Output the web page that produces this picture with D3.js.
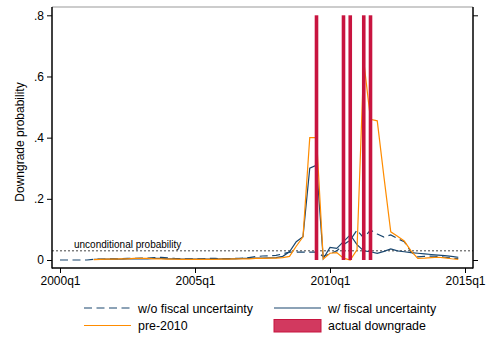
<!DOCTYPE html>
<html>
<head>
<meta charset="utf-8">
<script src="https://cdn.jsdelivr.net/npm/d3@7"></script>
<style>
  body { margin: 0; background: #fff; }
  text { font-family: "Liberation Sans", Arial, sans-serif; fill: #000; }
</style>
</head>
<body>
<svg id="chart"></svg>
<script>
// quarter index: 0 = 2000q1 ... 59 = 2014q4
let quarters = d3.range(0, 60);
let tickQuarters = [0, 20, 40, 60];
let tickLabels = ["2000q1", "2005q1", "2010q1", "2015q1"];
let yTicks = [0, 0.2, 0.4, 0.6, 0.8];
let yTickLabels = ["0", ".2", ".4", ".6", ".8"];

let woFiscal = [0, 0, 0, 0, 0,
  0.002, 0.003, 0.003, 0.004, 0.004, 0.005, 0.005, 0.006, 0.006,
  0.008, 0.009, 0.007, 0.005, 0.004, 0.004, 0.004, 0.004, 0.005, 0.005, 0.004, 0.004, 0.005, 0.006,
  0.008, 0.011, 0.013, 0.014, 0.015, 0.02, 0.026, 0.026, 0.026, 0.026, 0.026, 0.012,
  0.02, 0.03, 0.05, 0.065, 0.098, 0.072, 0.098, 0.085, 0.075, 0.082, 0.07, 0.06, 0.027, 0.01,
  0.012, 0.013, 0.012, 0.009, 0.006, 0.005];

let wFiscal = [null, null, null, null, null,
  0.002, 0.002, 0.003, 0.003, 0.003, 0.004, 0.004, 0.004, 0.004, 0.005, 0.005, 0.004, 0.004,
  0.003, 0.003, 0.003, 0.003, 0.003, 0.003, 0.004, 0.004, 0.004, 0.005,
  0.005, 0.006, 0.006, 0.007, 0.008, 0.012, 0.027, 0.06, 0.076, 0.30, 0.31, 0.005,
  0.041, 0.038, 0.06, 0.082, 0.05, 0.03, 0.027, 0.022, 0.028, 0.036, 0.03, 0.027, 0.024, 0.022,
  0.02, 0.018, 0.016, 0.014, 0.012, 0.009];

let pre2010 = [null, null, null, null, null,
  0.001, 0.002, 0.003, 0.003, 0.004, 0.004, 0.005, 0.005, 0.005, 0.004, 0.004, 0.003, 0.003,
  0.002, 0.002, 0.002, 0.002, 0.002, 0.002, 0.003, 0.003, 0.004, 0.004,
  0.004, 0.005, 0.005, 0.006, 0.006, 0.008, 0.012, 0.045, 0.076, 0.40, 0.40, 0.003,
  0.022, 0.024, 0.006, 0.0, 0.033, 0.65, 0.46, 0.455, 0.27, 0.092, 0.078, 0.062, 0.03, 0.005,
  0.006, 0.008, 0.009, 0.007, 0.004, 0.002];

let downgrades = [38, 42, 43, 45, 46];
let downgradeHeight = 0.8;
let unconditional = 0.03;

let W = 490, H = 338;
let plotL = 52, plotR = 473, plotT = 7, plotB = 268;

let svg = d3.select("#chart").attr("width", W).attr("height", H);

let x = d3.scaleLinear().domain([0, 60]).range([60, 465]);
let y = d3.scaleLinear().domain([0, 0.8]).range([260, 15.3]);

let navy = "#1a476f";
let orange = "#ff8c00";
let red = "#c8143f";

// plot frame (top)
svg.append("line").attr("x1", plotL).attr("x2", plotR).attr("y1", plotT).attr("y2", plotT)
  .attr("stroke", "#999").attr("stroke-width", 1.2);

// unconditional probability
svg.append("line")
  .attr("x1", plotL).attr("x2", plotR)
  .attr("y1", y(unconditional)).attr("y2", y(unconditional))
  .attr("stroke", "#444").attr("stroke-width", 1).attr("stroke-dasharray", "2,2");
svg.append("text").attr("x", 74).attr("y", y(unconditional) - 2.5)
  .attr("font-size", 10).text("unconditional probability");

// series
let line = d3.line()
  .defined(d => d[1] !== null)
  .x(d => x(d[0]))
  .y(d => y(d[1]));

let series = [
  { values: woFiscal, color: navy, dash: "8,4.5" },
  { values: wFiscal, color: navy, dash: null },
  { values: pre2010, color: orange, dash: null }
];

series.forEach(s => {
  svg.append("path")
    .datum(quarters.map(q => [q, s.values[q]]))
    .attr("d", line)
    .attr("fill", "none")
    .attr("stroke", s.color)
    .attr("stroke-width", 1.2)
    .attr("stroke-dasharray", s.dash);
});

// actual downgrades
let barW = 3.6;
svg.selectAll("rect.dg")
  .data(downgrades)
  .enter().append("rect")
  .attr("class", "dg")
  .attr("x", d => x(d) - barW / 2)
  .attr("width", barW)
  .attr("y", y(downgradeHeight))
  .attr("height", y(0) - y(downgradeHeight))
  .attr("fill", red);

// axes
let yAxis = d3.axisLeft(y).tickValues(yTicks)
  .tickFormat((d, i) => yTickLabels[i]).tickSize(5).tickPadding(3);
let gy = svg.append("g").attr("transform", "translate(" + plotL + ",0)").call(yAxis);
gy.select(".domain").remove();
gy.append("line").attr("x1", 0).attr("x2", 0).attr("y1", plotT).attr("y2", plotB + 0.5)
  .attr("stroke", "#000").attr("stroke-width", 1.5);

let xAxis = d3.axisBottom(x).tickValues(tickQuarters)
  .tickFormat((d, i) => tickLabels[i]).tickSize(5).tickPadding(3);
let gx = svg.append("g").attr("transform", "translate(0," + plotB + ")").call(xAxis);
gx.select(".domain").remove();
gx.append("line").attr("x1", plotL).attr("x2", plotR).attr("y1", 0).attr("y2", 0)
  .attr("stroke", "#000").attr("stroke-width", 1.5);

// right axis for the downgrade bars (no labels)
let gr = svg.append("g").attr("transform", "translate(" + plotR + ",0)")
  .call(d3.axisRight(y).tickValues([0, 0.8]).tickFormat("").tickSize(5));
gr.select(".domain").remove();
gr.append("line").attr("x1", 0).attr("x2", 0).attr("y1", plotT).attr("y2", plotB + 0.5)
  .attr("stroke", "#000").attr("stroke-width", 1.5);

svg.selectAll("g .tick text").attr("font-size", 12).attr("font-family", "Liberation Sans, Arial, sans-serif");
svg.selectAll("g .tick line").attr("stroke", "#000");

// y title
svg.append("text")
  .attr("transform", "translate(24,142) rotate(-90)")
  .attr("text-anchor", "middle").attr("font-size", 12)
  .text("Downgrade probability");

// legend
let legendItems = [
  { label: "w/o fiscal uncertainty", type: "line", color: navy, dash: "8,4.5", col: 0, row: 0 },
  { label: "w/ fiscal uncertainty", type: "line", color: navy, dash: null, col: 1, row: 0 },
  { label: "pre-2010", type: "line", color: orange, dash: null, col: 0, row: 1 },
  { label: "actual downgrade", type: "rect", color: red, col: 1, row: 1 }
];
let colX = [84, 274], rowY = [308, 325.5];
let lg = svg.append("g");
legendItems.forEach(it => {
  let kx = colX[it.col], ky = rowY[it.row];
  if (it.type === "line") {
    lg.append("line").attr("x1", kx).attr("x2", kx + 47).attr("y1", ky).attr("y2", ky)
      .attr("stroke", it.color).attr("stroke-width", 1.2).attr("stroke-dasharray", it.dash);
  } else {
    lg.append("rect").attr("x", kx).attr("y", ky - 6).attr("width", 47).attr("height", 12.5)
      .attr("fill", "#d2395f").attr("stroke", it.color).attr("stroke-width", 1);
  }
  lg.append("text").attr("x", kx + 54).attr("y", ky + 4.5).attr("font-size", 12.4).text(it.label);
});
</script>
</body>
</html>
